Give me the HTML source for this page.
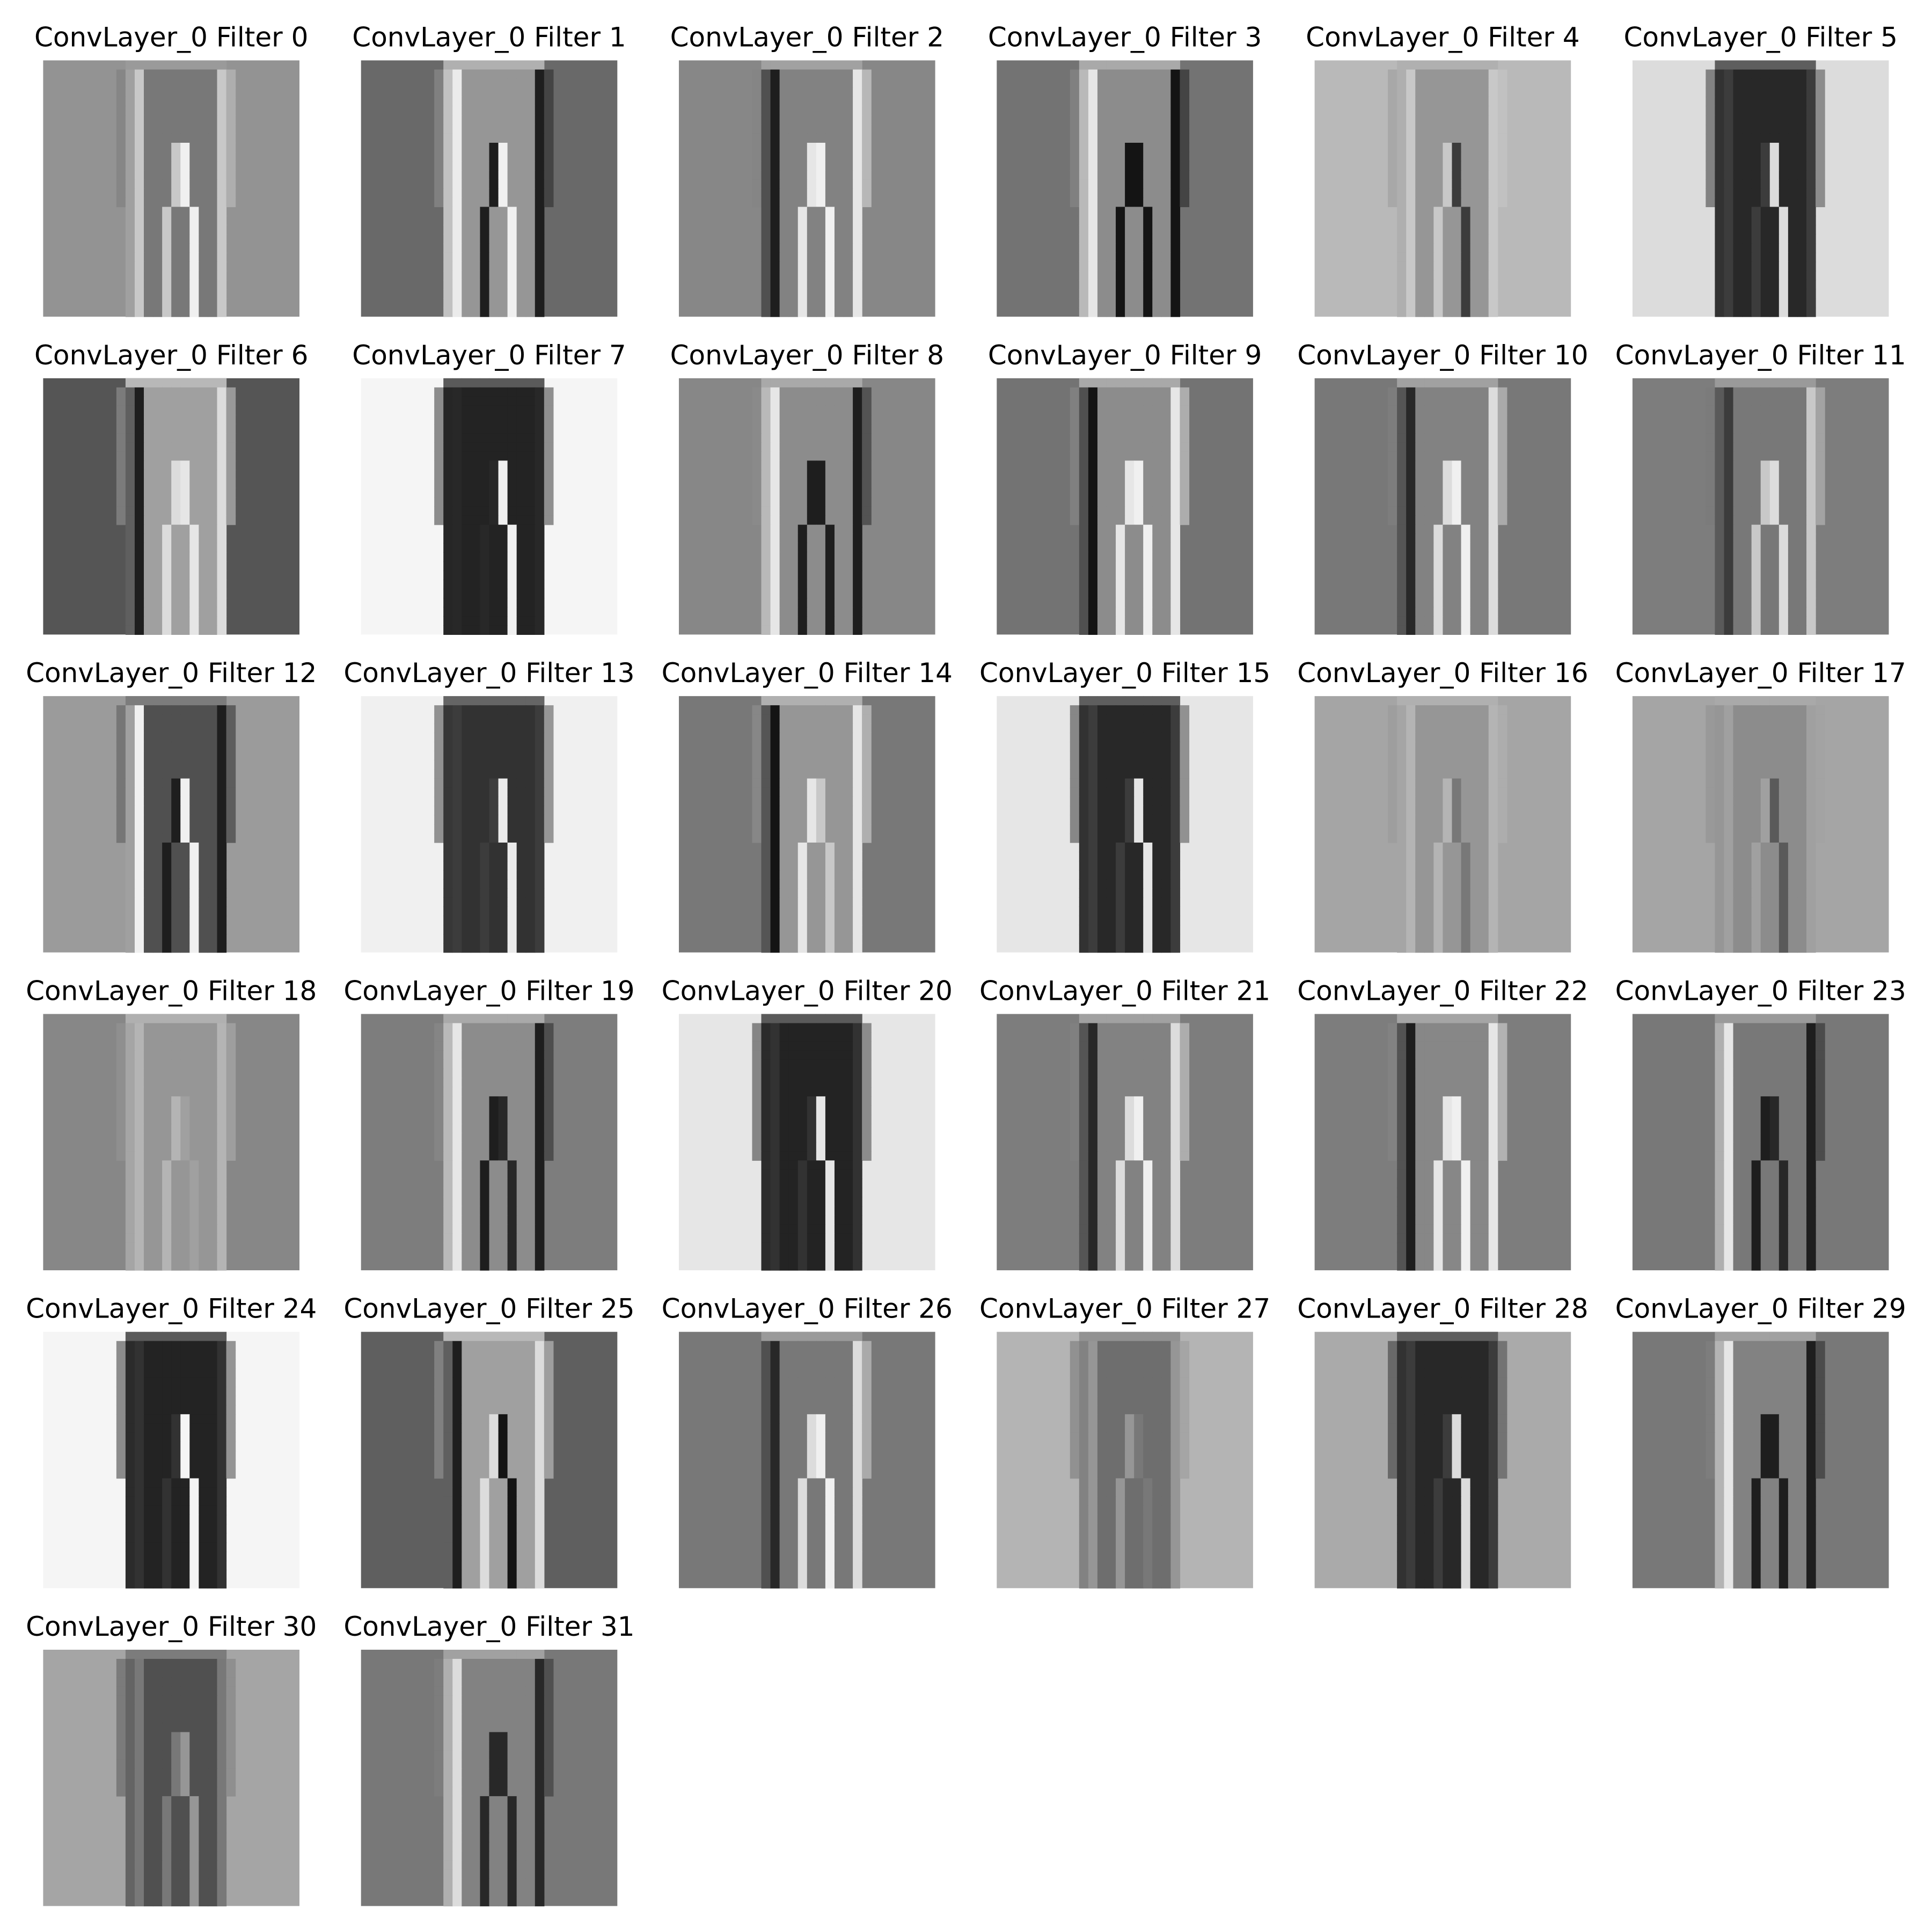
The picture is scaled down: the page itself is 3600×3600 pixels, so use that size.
<!DOCTYPE html>
<html><head><meta charset="utf-8"><style>
html,body{margin:0;padding:0;background:#fff;}
svg{display:block;}
text{font-family:"DejaVu Sans","Liberation Sans",sans-serif;font-size:50px;fill:#000;}
</style></head><body>
<svg id="chart" width="3600" height="3600" viewBox="0 0 3600 3600" xmlns="http://www.w3.org/2000/svg"></svg>
<script>
// Per-filter grayscale tones (0-255)
const filterIds = [0,1,2,3,4,5,6,7,8,9,10,11,12,13,14,15,16,17,18,19,20,21,22,23,24,25,26,27,28,29,30,31];
const bgTone   = [147,105,135,115,185,220,85,245,135,115,120,125,155,240,120,230,165,165,135,125,230,125,125,120,245,95,120,180,170,120,165,120];
const bodyTone = [120,150,130,140,150,40,160,35,140,140,130,120,80,50,150,40,150,140,150,140,35,130,135,120,35,160,120,110,40,130,80,130];
const leftTone = [200,235,30,230,200,60,30,40,230,20,40,60,240,60,20,60,180,160,180,230,50,40,30,230,50,30,40,150,60,230,120,220];
const rightTone= [200,30,230,20,200,60,220,40,30,230,220,200,30,60,230,60,180,160,180,30,50,220,230,30,50,220,220,150,60,30,120,40];
const gapTone  = [240,240,240,20,60,220,230,240,30,240,240,220,240,235,200,230,120,90,160,40,230,240,240,40,245,20,240,120,220,30,150,40];

const NS = "http://www.w3.org/2000/svg";
const svg = document.getElementById('chart');
const X0 = 80.4, Y0 = 112.5, STEP = 592.3, SIZE = 477.6, N = 28, COLS = 6;
const px = SIZE / N;
function g(v){const h=Math.max(0,Math.min(255,Math.round(v))).toString(16).padStart(2,'0');return '#'+h+h+h;}
function tone(r,c,t){
  const mix=(a,b)=>(a+b)/2;
  if (r===0) return (c>=9&&c<=19)?mix(t.body,255)*0.5+t.body*0.5:null;
  if (r<=15){
    if (c===8) return mix(t.body,t.bg);
    if (c===9) return mix(t.L,t.body);
    if (c===10) return t.L;
    if (c===19) return t.R;
    if (c===20) return mix(t.R,t.bg);
    if (r>=9 && c===14) return t.R;
    if (r>=9 && c===15) return t.G;
    if (c>10 && c<19) return t.body;
    return null;
  }
  if (c===9) return mix(t.L,t.body);
  if (c===10) return t.L;
  if (c===13) return t.R;
  if (c===16) return t.G;
  if (c===19) return t.R;
  if (c>10 && c<19) return t.body;
  return null;
}
filterIds.forEach((f,i)=>{
  const col = i % COLS, row = Math.floor(i / COLS);
  const x = X0 + col*STEP, y = Y0 + row*STEP;
  const grp = document.createElementNS(NS,'g');
  
  
  const bg = document.createElementNS(NS,'rect');
  bg.setAttribute('x',x);bg.setAttribute('y',y);bg.setAttribute('width',SIZE);bg.setAttribute('height',SIZE);
  bg.setAttribute('fill',g(bgTone[i]));
  
  
  grp.appendChild(bg);
  const t = {bg:bgTone[i],body:bodyTone[i],L:leftTone[i],R:rightTone[i],G:gapTone[i]};
  for(let r=0;r<N;r++){for(let c=0;c<N;c++){
    const v = tone(r,c,t); if(v===null) continue;
    const rc = document.createElementNS(NS,'rect');
    rc.setAttribute('x',(x+c*px).toFixed(2));rc.setAttribute('y',(y+r*px).toFixed(2));
    rc.setAttribute('width',(px+0.6).toFixed(2));rc.setAttribute('height',(px+0.6).toFixed(2));
    rc.setAttribute('fill',g(v));
    
    
    grp.appendChild(rc);
  }}
  const tt = document.createElementNS(NS,'text');
  tt.setAttribute('x',(x+SIZE/2).toFixed(1));tt.setAttribute('y',(y-26).toFixed(1));
  tt.setAttribute('text-anchor','middle');
  tt.textContent = 'ConvLayer_0 Filter '+f;
  
  
  grp.appendChild(tt);
  svg.appendChild(grp);
});
</script>
</body></html>
